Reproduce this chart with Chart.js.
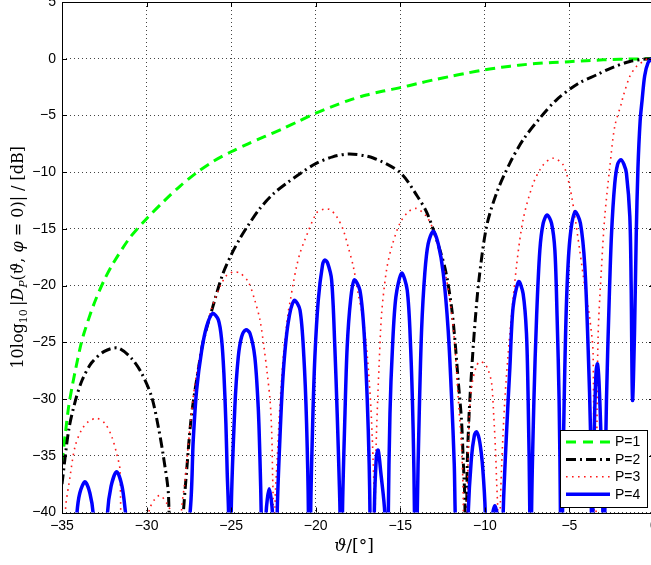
<!DOCTYPE html>
<html>
<head>
<meta charset="utf-8">
<title>Directivity pattern</title>
<script src="https://cdn.jsdelivr.net/npm/chart.js@4.4.1/dist/chart.umd.min.js"></script>
<style>
  html, body { margin: 0; padding: 0; overflow: hidden; background: #fff; }
  canvas { display: block; }
</style>
</head>
<body>
<canvas id="pattern" width="662" height="565"></canvas>
<script>
// P=1 (green dashed)
var thetaP1 = [-35, -34.8, -34.6, -34.4, -34.2, -33.9, -33.7, -33.3, -33, -32.5, -32, -31, -30, -29, -28, -27, -26, -25, -24, -23, -22, -21, -20, -19, -18, -17, -16, -15, -14, -13, -12, -11, -10, -9, -8, -7, -6, -5, -4, -3, -2, -1, 0];
var dbP1 = [-35.6, -33.0, -30.6, -28.9, -27.4, -25.3, -24.2, -22.4, -21.2, -19.5, -18.1, -15.8, -14.1, -12.6, -11.2, -10.0, -9.0, -8.2, -7.5, -6.85, -6.2, -5.5, -4.8, -4.2, -3.65, -3.2, -2.85, -2.55, -2.2, -1.85, -1.55, -1.25, -0.97, -0.75, -0.57, -0.43, -0.33, -0.26, -0.17, -0.1, -0.05, -0.02, 0];

// P=2 (black dash-dot)
var thetaP2 = [-35, -34.6, -34.2, -33.8, -33.25, -32.5, -31.7, -30.9, -30.3, -29.7, -29.3, -29.0, -28.7, -28.5,
  -27.85, -27.63, -27.35, -26.9, -26.65, -26.15, -25.5, -25.0, -24.5, -24.0, -23.3, -22.5, -21.7, -20.8, -20.0, -19.0, -18.0, -16.6, -15.0,
  -14.0, -13.45, -12.95, -12.35, -11.97, -11.77, -11.58, -11.38, -11.27, -11.18, -11.12,
  -11.05, -10.93, -10.79, -10.62, -10.35, -9.9, -9.31, -8.52, -7.74, -6.75, -5.76, -4.5, -3.38, -2.5, -1.43, -0.5, 0];
var dbP2 = [-37.5, -32.7, -30.1, -28.3, -26.8, -25.8, -25.5, -26.4, -27.7, -29.8, -32.5, -35.1, -38.6, -55,
  -40.5, -36.3, -31.5, -27.0, -24.9, -22.2, -19.0, -17.3, -15.9, -14.7, -13.2, -11.9, -10.95, -10.0, -9.25, -8.65, -8.4, -8.75, -10.05,
  -12.1, -13.5, -15.5, -18.5, -21.9, -24.8, -28.3, -31.9, -35.7, -39.2, -55,
  -36.5, -31.3, -27.7, -24.0, -19.5, -14.8, -11.85, -9.2, -7.15, -5.24, -3.62, -2.2, -1.41, -0.8, -0.24, -0.02, 0];

// P=3 (red dotted)
var thetaP3 = [-35, -34.8, -34.53, -34.23, -33.84, -33.45, -32.95, -32.46, -32.06, -31.77, -31.57, -31.35,
  -30.0, -29.8, -29.5, -29.2, -28.8, -28.45, -28.3,
  -27.93, -27.73, -27.54, -27.24, -26.94, -26.65, -26.15, -25.66, -25.27, -24.88, -24.48, -23.99, -23.6, -23.3, -23.06, -22.87, -22.7, -22.6, -22.55, -22.51, -22.46,
  -22.41, -22.27, -22.12, -21.92, -21.63, -21.5, -21.33, -21.13, -20.93, -20.65, -19.95, -19.5, -19.16, -18.77, -18.37, -18.08, -17.78, -17.49, -17.19, -17.0, -16.84, -16.7, -16.6, -16.54, -16.52,
  -16.47, -16.4, -16.25, -16.1, -15.81, -15.51, -15.02, -14.53, -14.04, -13.45, -13.05, -12.66, -12.26, -11.97, -11.77, -11.58, -11.38, -11.28, -11.2,
  -11.0, -10.9, -10.75, -10.5, -10.3, -10.0, -9.8, -9.6, -9.47, -9.37, -9.3, -9.24, -9.18,
  -9.1, -9.01, -8.82, -8.52, -8.13, -7.74, -7.14, -6.55, -5.96, -5.37, -4.98, -4.68, -4.39, -4.09, -3.79, -3.6, -3.5,
  -3.45, -3.38, -3.3, -3.1, -2.91, -2.61, -2.32, -1.92, -1.82, -1.43, -1.04, -0.64, -0.35, 0];
var dbP3 = [-55, -39.9, -36.9, -34.2, -32.7, -32.0, -31.7, -32.15, -33.3, -34.8, -36.3, -55,
  -41, -39.6, -38.8, -38.5, -39.2, -40.5, -55,
  -39.8, -37.2, -34.2, -29.8, -26.9, -24.8, -22.0, -20.1, -19.1, -18.8, -18.9, -19.65, -21.3, -23.0, -25.4, -27.7, -30.1, -33.0, -36.6, -39.5, -55,
  -39.5, -35.1, -30.7, -26.3, -22.4, -21.3, -19.8, -18.3, -17.15, -16.0, -13.6, -13.25, -13.3, -13.9, -15.1, -16.6, -18.3, -20.7, -23.0, -25.4, -28.3, -31.9, -35.7, -38.9, -55,
  -37.2, -32.7, -26.9, -22.4, -18.6, -16.6, -14.5, -13.5, -13.2, -13.9, -15.1, -17.15, -19.5, -22.4, -25.4, -29.8, -34.2, -38.6, -55,
  -36, -31, -28.6, -27.1, -26.7, -26.9, -27.45, -28.6, -31.6, -34.5, -37.45, -39.8, -55,
  -40.5, -36.0, -30.1, -24.2, -18.3, -14.2, -11.0, -9.36, -8.77, -9.36, -11.3, -13.9, -16.9, -20.1, -23.0, -26.0, -55,
  -45, -33, -24.2, -18.3, -13.9, -9.5, -5.97, -3.9, -3.3, -1.56, -0.68, -0.24, 0, 0];

// P=4 (blue solid)
var thetaP4 = [-35,
  -34.13, -33.95, -33.64, -33.35, -33.15, -32.72,
  -32.32, -32.1, -31.77, -31.45, -31.22, -29.3,
  -27.45, -27.24, -27.04, -26.74, -26.45, -26.1, -25.76, -25.56, -25.43, -25.31, -25.23, -25.15, -25.08,
  -25.0, -24.78, -24.58, -24.38, -24.13, -23.89, -23.6, -23.4, -23.3, -23.22, -23.08,
  -22.94, -22.75, -22.55, -22.42,
  -22.28, -22.12, -21.92, -21.63, -21.27, -20.93, -20.7, -20.54, -20.43, -20.37,
  -20.3, -20.18, -20.05, -19.85, -19.6, -19.46, -19.3, -19.06, -18.87, -18.73, -18.61, -18.56, -18.49,
  -18.42, -18.27, -18.14, -17.94, -17.72, -17.39, -17.15, -16.96, -16.84, -16.79, -16.67,
  -16.54, -16.42, -16.31, -16.15, -15.91, -15.81,
  -15.71, -15.61, -15.46, -15.26, -14.92, -14.59, -14.39, -14.24, -14.16, -14.08,
  -14.0, -13.88, -13.74, -13.55, -13.35, -13.05, -12.76, -12.46, -12.17, -11.97, -11.81, -11.75, -11.35,
  -10.99, -10.8, -10.62, -10.49, -10.3, -10.12, -9.97, -9.7,
  -9.55, -9.41, -9.27, -9.1,
  -8.92, -8.72, -8.52, -8.33, -8.0, -7.74, -7.54, -7.44, -7.34, -7.29,
  -7.24, -7.1, -6.94, -6.75, -6.55, -6.32, -6.06, -5.86, -5.73, -5.61, -5.53, -5.47,
  -5.41, -5.31, -5.17, -4.98, -4.67, -4.35, -4.09, -3.89, -3.75, -3.7, -3.68,
  -3.62, -3.52, -3.42, -3.34, -3.25, -3.12, -3.02, -2.96,
  -2.91, -2.81, -2.65, -2.51, -2.32, -2.15, -1.96, -1.78, -1.63, -1.43, -1.35, -1.27,
  -1.15, -1.05, -0.95, -0.82, -0.7, -0.55, -0.35, -0.15, 0];
var dbP4 = [-60,
  -40.3, -38.3, -37.3, -38.3, -40.3, -60,
  -40.3, -37.7, -36.4, -37.7, -40.3, -60,
  -40.3, -33.6, -29.2, -25.7, -23.6, -22.45, -23.0, -24.8, -27.7, -32.15, -36.6, -40.3, -60,
  -40.3, -30.7, -26.3, -24.5, -23.9, -24.2, -26.3, -30.7, -35.1, -40.3, -60,
  -40.3, -37.9, -40.3, -60,
  -40.3, -33.6, -27.7, -23.3, -21.3, -22.15, -26.3, -32.15, -40.3, -60,
  -40.3, -32.15, -26.3, -21.3, -18.2, -17.75, -18.0, -19.5, -25.4, -31.3, -37.2, -40.3, -60,
  -40.3, -31.3, -25.4, -21.3, -19.5, -20.4, -23.9, -29.8, -35.7, -40.3, -60,
  -40.3, -35.2, -34.5, -36.5, -40.3, -60,
  -40.3, -31.3, -25.4, -21.0, -18.9, -20.4, -25.4, -32.7, -40.3, -60,
  -40.3, -31.3, -23.9, -18.9, -16.3, -15.2, -16.3, -18.9, -23.9, -29.8, -35.7, -40.3, -60,
  -40.3, -35.3, -33.2, -32.9, -33.8, -36.2, -40.3, -60,
  -40.3, -39.4, -40.3, -60,
  -40.3, -33.0, -27.2, -21.9, -19.65, -20.7, -24.2, -30.1, -40.3, -60,
  -40.3, -30.1, -22.7, -16.9, -14.5, -13.77, -14.5, -16.9, -22.7, -30.1, -40.3, -60,
  -40.3, -30.1, -21.3, -16.0, -13.5, -14.5, -18.3, -25.7, -33.0, -40.3, -60,
  -40.3, -32.0, -27.5, -26.9, -28.5, -34.0, -40.3, -60,
  -40.3, -30.1, -21.3, -15.4, -11.0, -9.3, -8.9, -9.3, -10.1, -13.9, -20.0, -30.1,
  -24.0, -15.5, -9.7, -5.5, -3.6, -1.5, -0.35, -0.05, 0];

var seriesLabels = ['P=1', 'P=2', 'P=3', 'P=4'];
var xRange = [-35, 0];
var yRange = [-40, 5];
var tickStep = 5;

function toPoints(xs, ys) {
    return xs.map(function (x, i) { return { x: x, y: ys[i] }; });
}

function minus(v) {
    return String(v).replace('-', '\u2212');
}

var serif = '"DejaVu Serif", "Liberation Serif", serif';

// rotated y title with subscripts, drawn piece by piece
var yTitle = [
    { text: '10log', font: '16px ' + serif },
    { text: '10', font: '11px ' + serif, dy: 4 },
    { text: '\u2009|', font: '16px ' + serif },
    { text: 'D', font: 'italic 16px ' + serif },
    { text: 'P', font: 'italic 11px ' + serif, dy: 4 },
    { text: '(', font: '16px ' + serif },
    { text: '\u03d1', font: 'italic 16px ' + serif },
    { text: ', ', font: '16px ' + serif },
    { text: '\u03c6', font: 'italic 16px ' + serif },
    { text: ' = 0)| / [dB]', font: '16px ' + serif }
];
var xTitle = [
    { text: '\u03d1', font: 'italic 17px ' + serif },
    { text: '/[\u00b0]', font: '17px ' + serif }
];

function drawRich(ctx, pieces, x, y) {
    var total = 0;
    pieces.forEach(function (p) {
        ctx.font = p.font;
        p.w = ctx.measureText(p.text).width;
        total += p.w;
    });
    var cx = x - total / 2;
    pieces.forEach(function (p) {
        ctx.font = p.font;
        ctx.fillText(p.text, cx, y + (p.dy || 0));
        cx += p.w;
    });
}

// matlab style box, inward ticks, legend and axis titles
var matlabFrame = {
    id: 'matlabFrame',
    afterDraw: function (chart) {
        var ctx = chart.ctx;
        var a = chart.chartArea;
        var sx = chart.scales.x;
        var sy = chart.scales.y;
        ctx.save();
        ctx.setLineDash([]);
        ctx.strokeStyle = '#000';
        ctx.lineWidth = 1;
        ctx.strokeRect(Math.round(a.left) + 0.5, Math.round(a.top) + 0.5,
            Math.round(a.right - a.left), Math.round(a.bottom - a.top));

        ctx.beginPath();
        sx.ticks.forEach(function (t) {
            var px = Math.round(sx.getPixelForValue(t.value)) + 0.5;
            ctx.moveTo(px, a.bottom); ctx.lineTo(px, a.bottom - 5);
            ctx.moveTo(px, a.top); ctx.lineTo(px, a.top + 5);
        });
        sy.ticks.forEach(function (t) {
            var py = Math.round(sy.getPixelForValue(t.value)) + 0.5;
            ctx.moveTo(a.left, py); ctx.lineTo(a.left + 5, py);
            ctx.moveTo(a.right, py); ctx.lineTo(a.right - 5, py);
        });
        ctx.stroke();

        // legend box
        var lx = 560.5, ly = 430.5, lw = 87, lh = 77;
        ctx.fillStyle = '#fff';
        ctx.fillRect(lx, ly, lw, lh);
        ctx.strokeRect(lx, ly, lw, lh);
        ctx.font = '14px "Liberation Sans", Arial, sans-serif';
        ctx.textBaseline = 'middle';
        ctx.textAlign = 'left';
        seriesLabels.forEach(function (label, i) {
            var ds = chart.data.datasets[i];
            var rowY = 442 + i * 17.4;
            ctx.beginPath();
            ctx.strokeStyle = ds.borderColor;
            ctx.lineWidth = ds.borderWidth;
            ctx.setLineDash(ds.legendDash || ds.borderDash || []);
            ctx.moveTo(566, rowY);
            ctx.lineTo(610, rowY);
            ctx.stroke();
            ctx.setLineDash([]);
            ctx.fillStyle = '#000';
            ctx.fillText(label, 615, rowY + 0.5);
        });

        // axis titles
        ctx.fillStyle = '#000';
        ctx.textBaseline = 'alphabetic';
        drawRich(ctx, xTitle, (a.left + a.right) / 2 - 4, 551);
        ctx.translate(23, (a.top + a.bottom) / 2);
        ctx.rotate(-Math.PI / 2);
        drawRich(ctx, yTitle, 0, 0);
        ctx.restore();
    }
};

Chart.defaults.font.family = '"Liberation Sans", Arial, sans-serif';
Chart.defaults.color = '#000';

var ctx = document.getElementById('pattern').getContext('2d');
var patternChart = new Chart(ctx, {
    type: 'scatter',
    data: {
        datasets: [
            {
                label: seriesLabels[0],
                data: toPoints(thetaP1, dbP1),
                borderColor: '#00ff00',
                borderWidth: 3,
                borderDash: [10, 6],
                legendDash: [10, 7],
                order: 3
            },
            {
                label: seriesLabels[1],
                data: toPoints(thetaP2, dbP2),
                borderColor: '#000000',
                borderWidth: 3,
                borderDash: [10, 4, 2, 4],
                order: 2
            },
            {
                label: seriesLabels[2],
                data: toPoints(thetaP3, dbP3),
                borderColor: '#ff1a1a',
                borderWidth: 1.6,
                borderDash: [1.6, 4.4],
                order: 1
            },
            {
                label: seriesLabels[3],
                data: toPoints(thetaP4, dbP4),
                borderColor: '#0000ff',
                borderWidth: 3.5,
                order: 0
            }
        ].map(function (ds) {
            ds.showLine = true;
            ds.pointRadius = 0;
            ds.fill = false;
            ds.tension = 0.3;
            ds.clip = 0;
            return ds;
        })
    },
    options: {
        responsive: false,
        animation: false,
        events: [],
        layout: { padding: { top: 2, right: 8, left: 0, bottom: 0 } },
        elements: { line: { capBezierPoints: false } },
        plugins: {
            legend: { display: false },
            tooltip: { enabled: false }
        },
        scales: {
            x: {
                type: 'linear',
                min: xRange[0],
                max: xRange[1],
                ticks: {
                    stepSize: tickStep,
                    padding: 5,
                    maxRotation: 0,
                    font: { size: 14 },
                    callback: function (v) { return minus(v); }
                },
                grid: { color: '#444', lineWidth: 1, drawTicks: false },
                border: { display: false, dash: [1, 3] },
                afterFit: function (s) {
                    s.height = 52.5;
                    s.paddingLeft = 0;
                    s.paddingRight = 0;
                }
            },
            y: {
                type: 'linear',
                min: yRange[0],
                max: yRange[1],
                ticks: {
                    stepSize: tickStep,
                    padding: 6,
                    font: { size: 14 },
                    callback: function (v) { return minus(v); }
                },
                grid: { color: '#444', lineWidth: 1, drawTicks: false },
                border: { display: false, dash: [1, 3] },
                afterFit: function (s) {
                    s.width = 62;
                    s.paddingTop = 0;
                    s.paddingBottom = 0;
                }
            }
        }
    },
    plugins: [matlabFrame]
});
</script>
</body>
</html>
